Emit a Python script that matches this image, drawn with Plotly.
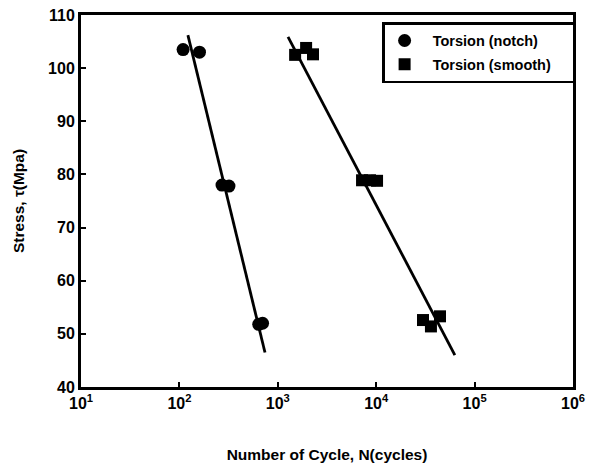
import plotly.graph_objects as go

# Torsion (notch) data
notch_N = [109, 160, 271, 319, 640, 700]
notch_S = [103.5, 103.0, 78.0, 77.8, 51.8, 52.0]
notch_fit_N = [122, 741]
notch_fit_S = [106.2, 46.5]

# Torsion (smooth) data
smooth_N = [1500, 1940, 2280, 7180, 8650, 10200, 29900, 36000, 44500]
smooth_S = [102.5, 103.8, 102.6, 78.9, 78.9, 78.8, 52.6, 51.4, 53.3]
smooth_fit_N = [1270, 63000]
smooth_fit_S = [105.9, 46.0]

x_tickvals = [10, 100, 1000, 10000, 100000, 1000000]
x_ticktext = ["10<sup>1</sup>", "10<sup>2</sup>", "10<sup>3</sup>", "10<sup>4</sup>", "10<sup>5</sup>", "10<sup>6</sup>"]
y_tickvals = [40, 50, 60, 70, 80, 90, 100, 110]

FONT = "Liberation Sans"
NB = "\u00a0\u00a0"
TAIL = "\u00a0\u00a0\u00a0\u00a0"

fig = go.Figure()
fig.add_trace(go.Scatter(x=notch_fit_N, y=notch_fit_S, mode="lines",
                         line=dict(color="black", width=2.8), showlegend=False, hoverinfo="skip"))
fig.add_trace(go.Scatter(x=smooth_fit_N, y=smooth_fit_S, mode="lines",
                         line=dict(color="black", width=2.8), showlegend=False, hoverinfo="skip"))
fig.add_trace(go.Scatter(x=notch_N, y=notch_S, mode="markers", name=f"<b>{NB}Torsion (notch)</b>",
                         legendgroup="a",
                         marker=dict(symbol="circle", size=13, color="black")))
fig.add_trace(go.Scatter(x=smooth_N, y=smooth_S, mode="markers", name=f"<b>{NB}Torsion (smooth){TAIL}</b>",
                         legendgroup="b",
                         marker=dict(symbol="square", size=12, color="black")))

fig.update_layout(
    width=594, height=469,
    margin=dict(l=81, r=21, t=15, b=82),
    plot_bgcolor="white", paper_bgcolor="white",
    font=dict(family=FONT, color="black"),
    legend=dict(x=0.612, y=0.981, xanchor="left", yanchor="top",
                bordercolor="black", borderwidth=2.5, bgcolor="white",
                traceorder="grouped", tracegroupgap=2,
                font=dict(family=FONT, size=14.5, color="black")),
)
fig.update_xaxes(type="log", range=[1, 6], tickvals=x_tickvals,
                 ticktext=[f"<b>{t}</b>" for t in x_ticktext],
                 showgrid=False, zeroline=False, automargin=False,
                 showline=True, linecolor="black", linewidth=3, mirror=True,
                 ticks="inside", ticklen=5, tickwidth=2, tickcolor="black",
                 tickfont=dict(family=FONT, size=16, color="black"),
                 title=dict(text="<b>Number of Cycle, N(cycles)</b>",
                            font=dict(family=FONT, size=15.5, color="black"), standoff=38))
fig.update_yaxes(range=[40, 110], tickvals=y_tickvals,
                 ticktext=[f"<b>{v}</b>" for v in y_tickvals],
                 showgrid=False, zeroline=False, automargin=False,
                 showline=True, linecolor="black", linewidth=3, mirror=True,
                 ticks="inside", ticklen=5, tickwidth=2, tickcolor="black",
                 tickfont=dict(family=FONT, size=16, color="black"),
                 title=dict(text="<b>Stress, τ(Mpa)</b>",
                            font=dict(family=FONT, size=15.5, color="black"), standoff=20))

fig.write_html("out.html")
